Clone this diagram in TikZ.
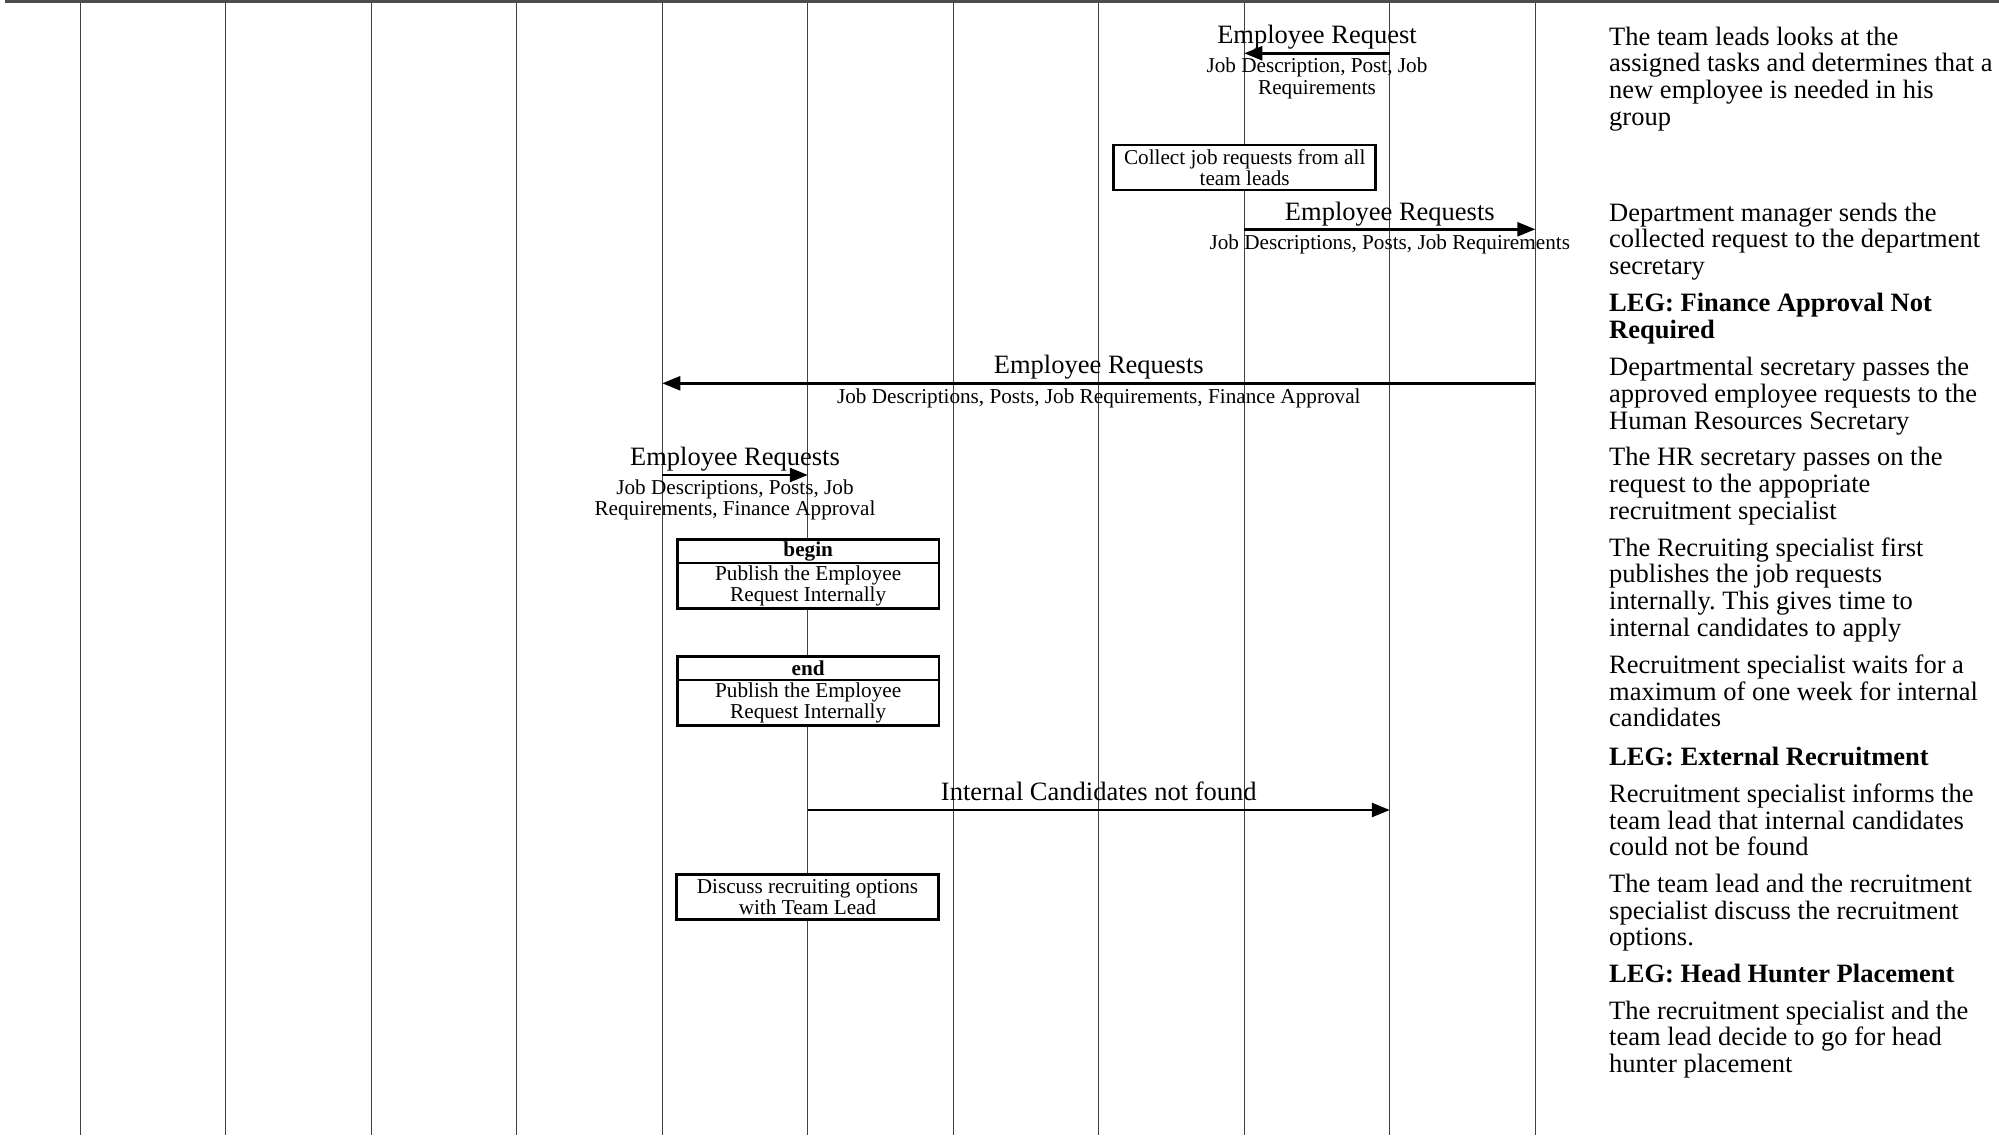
\documentclass[tikz,border=0pt]{standalone}
\usepackage{fontspec}
\setmainfont{Liberation Serif}
\usetikzlibrary{arrows.meta}
\newcommand\fixspaces{\spaceskip=\fontdimen2\font\xspaceskip=\fontdimen2\font\relax}
\begin{document}
\begin{tikzpicture}[x=1pt,y=-1pt,
  lifeline/.style={draw=black!75, line width=1.3pt},
  topline/.style={draw=black!70, line width=2.5pt},
  msg/.style={draw=black, line width=2.5pt, -{Triangle[length=18pt,width=14pt]}},
  big/.style={font=\fontsize{26.5}{26.7}\selectfont\frenchspacing, inner sep=0pt},
  small/.style={font=\fontsize{21.2}{21.3}\selectfont\frenchspacing, inner sep=0pt},
  ctr/.style={execute at begin node={\centering\fixspaces}},
  lft/.style={execute at begin node={\raggedright\fixspaces}},
  msgtitle/.style={big, anchor=base},
  sublbl/.style={small, text width=340pt, ctr, anchor=base},
  note/.style={big, text width=420pt, lft, anchor=base west},
  actbox/.style={small, draw=black, line width=2.5pt, fill=white, minimum width=262pt, minimum height=45pt, text width=250pt, ctr},
  parthead/.style={small, fill=white, minimum width=261pt, minimum height=23.2pt, text width=250pt, ctr},
  partbody/.style={small, fill=white, minimum width=261pt, minimum height=45.1pt, text width=250pt, ctr, anchor=north},
  outer/.style={draw=black, line width=2.5pt},
  divider/.style={draw=black, line width=1.3pt}
]
\useasboundingbox (0,0) rectangle (1999,1135);

% lifelines
\foreach \i in {0,...,10} {
  \coordinate (T\i) at ({80.3+145.5*\i},0);
  \coordinate (B\i) at ({80.3+145.5*\i},1135);
  \draw[lifeline] (T\i) -- (B\i);
}
\coordinate (topL) at (5,1.25);
\coordinate (topR) at (1999,1.25);
\draw[topline] (topL) -- (topR);

% message 1
\coordinate (m1s) at (1389.8,53.3);
\coordinate (m1e) at (1244.3,53.3);
\draw[msg] (m1s) -- (m1e);
\node[msgtitle] (m1t) at (1317,43.3) {Employee Request};
\node[sublbl] (m1l) at (1317,72.7) {Job Description, Post, Job\\Requirements};

% collect box
\node[actbox] (collect) at (1244.7,167.4) {Collect job requests from all\\team leads};

% message 2
\coordinate (m2s) at (1244.3,229.3);
\coordinate (m2e) at (1535.3,229.3);
\draw[msg] (m2s) -- (m2e);
\node[msgtitle] (m2t) at (1389.8,220) {Employee Requests};
\node[small, anchor=base] (m2l) at (1389.8,249.3) {Job Descriptions, Posts, Job Requirements};

% message 3
\coordinate (m3s) at (1535.3,383.3);
\coordinate (m3e) at (662.3,383.3);
\draw[msg] (m3s) -- (m3e);
\node[msgtitle] (m3t) at (1098.8,373.3) {Employee Requests};
\node[small, anchor=base] (m3l) at (1098.8,403.3) {Job Descriptions, Posts, Job Requirements, Finance Approval};

% message 4
\coordinate (m4s) at (662.3,475);
\coordinate (m4e) at (807.8,475);
\draw[msg] (m4s) -- (m4e);
\node[msgtitle] (m4t) at (735,465) {Employee Requests};
\node[sublbl] (m4l) at (735,494) {Job Descriptions, Posts, Job\\Requirements, Finance Approval};

% begin box
\node[parthead] (bh) at (808.2,551.1) {\bfseries begin};
\node[partbody] (bb) at (bh.south) {Publish the Employee\\Request Internally};
\draw[outer] (bh.north west) rectangle (bb.south east);
\draw[divider] (bh.south west) -- (bh.south east);

% end box
\node[parthead] (eh) at (808.2,668.2) {\bfseries end};
\node[partbody] (eb) at (eh.south) {Publish the Employee\\Request Internally};
\draw[outer] (eh.north west) rectangle (eb.south east);
\draw[divider] (eh.south west) -- (eh.south east);

% message 5
\coordinate (m5s) at (807.8,810);
\coordinate (m5e) at (1389.8,810);
\draw[msg] (m5s) -- (m5e);
\node[msgtitle] (m5t) at (1098.8,800) {Internal Candidates not found};

% discuss box
\node[actbox] (discuss) at (807.5,897.2) {Discuss recruiting options\\with Team Lead};

% notes
\node[note] (n1) at (1609,45) {The team leads looks at the\\assigned tasks and determines that a\\new employee is needed in his\\group};
\node[note] (n2) at (1609,221) {Department manager sends the\\collected request to the department\\secretary};
\node[note] (n3) at (1609,311.7) {\bfseries LEG: Finance Approval Not\\Required};
\node[note] (n4) at (1609,375.7) {Departmental secretary passes the\\approved employee requests to the\\Human Resources Secretary};
\node[note] (n5) at (1609,465.7) {The HR secretary passes on the\\request to the appopriate\\recruitment specialist};
\node[note] (n6) at (1609,556) {The Recruiting specialist first\\publishes the job requests\\internally. This gives time to\\internal candidates to apply};
\node[note] (n7) at (1609,673.3) {Recruitment specialist waits for a\\maximum of one week for internal\\candidates};
\node[note] (n8) at (1609,765) {\bfseries LEG: External Recruitment};
\node[note] (n9) at (1609,802.3) {Recruitment specialist informs the\\team lead that internal candidates\\could not be found};
\node[note] (n10) at (1609,892.3) {The team lead and the recruitment\\specialist discuss the recruitment\\options.};
\node[note] (n11) at (1609,982.3) {\bfseries LEG: Head Hunter Placement};
\node[note] (n12) at (1609,1019) {The recruitment specialist and the\\team lead decide to go for head\\hunter placement};
\end{tikzpicture}
\end{document}
